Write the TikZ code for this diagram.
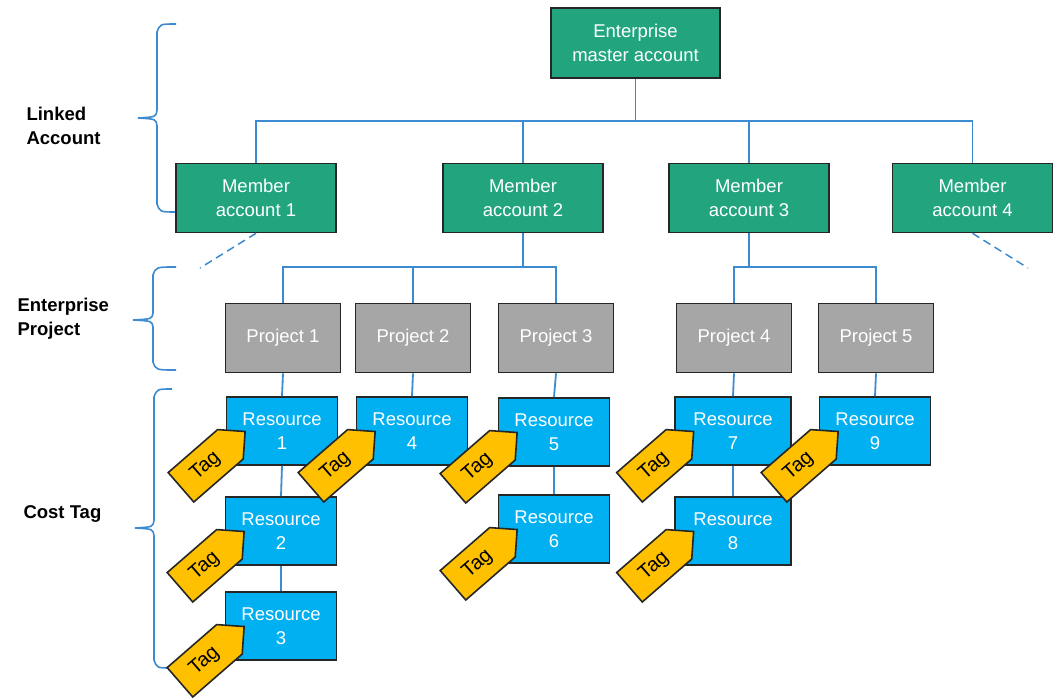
\documentclass[tikz,border=0pt]{standalone}
\usepackage{fontspec}
\setmainfont{Liberation Sans}
\usetikzlibrary{shapes.symbols}
\definecolor{accgreen}{HTML}{22A57F}
\definecolor{projgray}{HTML}{A6A6A6}
\definecolor{resblue}{HTML}{00B0F0}
\definecolor{taggold}{HTML}{FFC000}
\definecolor{linkblue}{HTML}{3C8AD0}
\definecolor{edgedark}{HTML}{262626}
\begin{document}
\begin{tikzpicture}[x=1pt,y=-1pt,
  box/.style={draw=edgedark, line width=1.6pt, text=white, align=center, inner sep=0pt, font=\fontsize{18.5}{24}\selectfont},
  acct/.style={box, fill=accgreen, minimum width=160pt, minimum height=69pt},
  proj/.style={box, fill=projgray, minimum width=115pt, minimum height=69pt},
  res/.style={box, fill=resblue, minimum width=111pt, minimum height=68pt},
  tagbox/.style={signal, signal to=east, signal pointer angle=90, draw=edgedark, line width=1.6pt, fill=taggold, minimum width=85pt, minimum height=39pt, inner sep=0pt, rotate=41, font=\fontsize{20}{22}\selectfont},
  conn/.style={draw=linkblue, line width=1.8pt},
  dconn/.style={draw=linkblue, line width=1.5pt, dash pattern=on 8pt off 5pt},
  brace/.style={draw=linkblue, line width=1.6pt},
  side/.style={align=left, anchor=west, font=\bfseries\fontsize{18.5}{24}\selectfont, text=black}
]
\useasboundingbox (0,0) rectangle (1060,700);

% side labels
\node[side] (lblA) at (23,126) {Linked\\Account};
\node[side] (lblB) at (14,319) {Enterprise\\Project};
\node[side] (lblC) at (20,514) {Cost Tag};

% braces
\draw[brace] (176,24) .. controls (160,24) .. (157,32) -- (157,110) .. controls (156,117) .. (138,118) .. controls (156,119) .. (157,126) -- (157,204) .. controls (160,212) .. (176,212);
\draw[brace] (176,267) .. controls (156,267) .. (153,275) -- (153,313) .. controls (152,319) .. (133,320) .. controls (152,321) .. (153,327) -- (153,362) .. controls (156,370) .. (176,370);
\draw[brace] (172,389) .. controls (157,389) .. (154,397) -- (154,520) .. controls (153,527) .. (135,528) .. controls (153,529) .. (154,536) -- (154,660) .. controls (157,668) .. (172,668);

% nodes
\node[acct, minimum width=169pt, minimum height=70pt] (master) at (635.5,43) {Enterprise\\master account};
\node[acct] (m1) at (256,198) {Member\\account 1};
\node[acct] (m2) at (523,198) {Member\\account 2};
\node[acct] (m3) at (749,198) {Member\\account 3};
\node[acct] (m4) at (972.5,198) {Member\\account 4};

\node[proj] (p1) at (283,338) {Project 1};
\node[proj] (p2) at (413,338) {Project 2};
\node[proj] (p3) at (556,338) {Project 3};
\node[proj] (p4) at (734,338) {Project 4};
\node[proj] (p5) at (876,338) {Project 5};

\node[res] (r1) at (282,431) {Resource\\1};
\node[res] (r2) at (281,531) {Resource\\2};
\node[res] (r3) at (281,626) {Resource\\3};
\node[res] (r4) at (412,431) {Resource\\4};
\node[res] (r5) at (554,432) {Resource\\5};
\node[res] (r6) at (554,529) {Resource\\6};
\node[res, minimum width=116pt] (r7) at (733,431) {Resource\\7};
\node[res, minimum width=116pt] (r8) at (733,531) {Resource\\8};
\node[res] (r9) at (875,431) {Resource\\9};

% connector end points
\coordinate (busA) at (635.5,121);
\coordinate (busB) at (523,267);
\coordinate (busC) at (749,267);
\coordinate (d1) at (200,268);
\coordinate (d4) at (1028,268);

\draw[conn] (master.south) -- (busA);
\draw[conn] (m1.north) |- (busA);
\draw[conn] (m2.north) |- (busA);
\draw[conn] (m3.north) |- (busA);
\draw[conn] (m4.north) |- (busA);

\draw[conn] (m2.south) -- (busB);
\draw[conn] (p1.north) |- (busB);
\draw[conn] (p2.north) |- (busB);
\draw[conn] (p3.north) |- (busB);

\draw[conn] (m3.south) -- (busC);
\draw[conn] (p4.north) |- (busC);
\draw[conn] (p5.north) |- (busC);

\draw[conn] (p1.south) -- (r1.north);
\draw[conn] (r1.south) -- (r2.north);
\draw[conn] (r2.south) -- (r3.north);
\draw[conn] (p2.south) -- (r4.north);
\draw[conn] (p3.south) -- (r5.north);
\draw[conn] (r5.south) -- (r6.north);
\draw[conn] (p4.south) -- (r7.north);
\draw[conn] (r7.south) -- (r8.north);
\draw[conn] (p5.south) -- (r9.north);

\draw[dconn] (m1.south) -- (d1);
\draw[dconn] (m4.south) -- (d4);

% tags
\node[tagbox] (t1) at ([shift={(-20,0)}]r1.south west) {Tag};
\node[tagbox] (t2) at ([shift={(-20,0)}]r2.south west) {Tag};
\node[tagbox] (t3) at ([shift={(-20,0)}]r3.south west) {Tag};
\node[tagbox] (t4) at ([shift={(-20,0)}]r4.south west) {Tag};
\node[tagbox] (t5) at ([shift={(-20,0)}]r5.south west) {Tag};
\node[tagbox] (t6) at ([shift={(-20,0)}]r6.south west) {Tag};
\node[tagbox] (t7) at ([shift={(-20,0)}]r7.south west) {Tag};
\node[tagbox] (t8) at ([shift={(-20,0)}]r8.south west) {Tag};
\node[tagbox] (t9) at ([shift={(-20,0)}]r9.south west) {Tag};
\end{tikzpicture}
\end{document}
